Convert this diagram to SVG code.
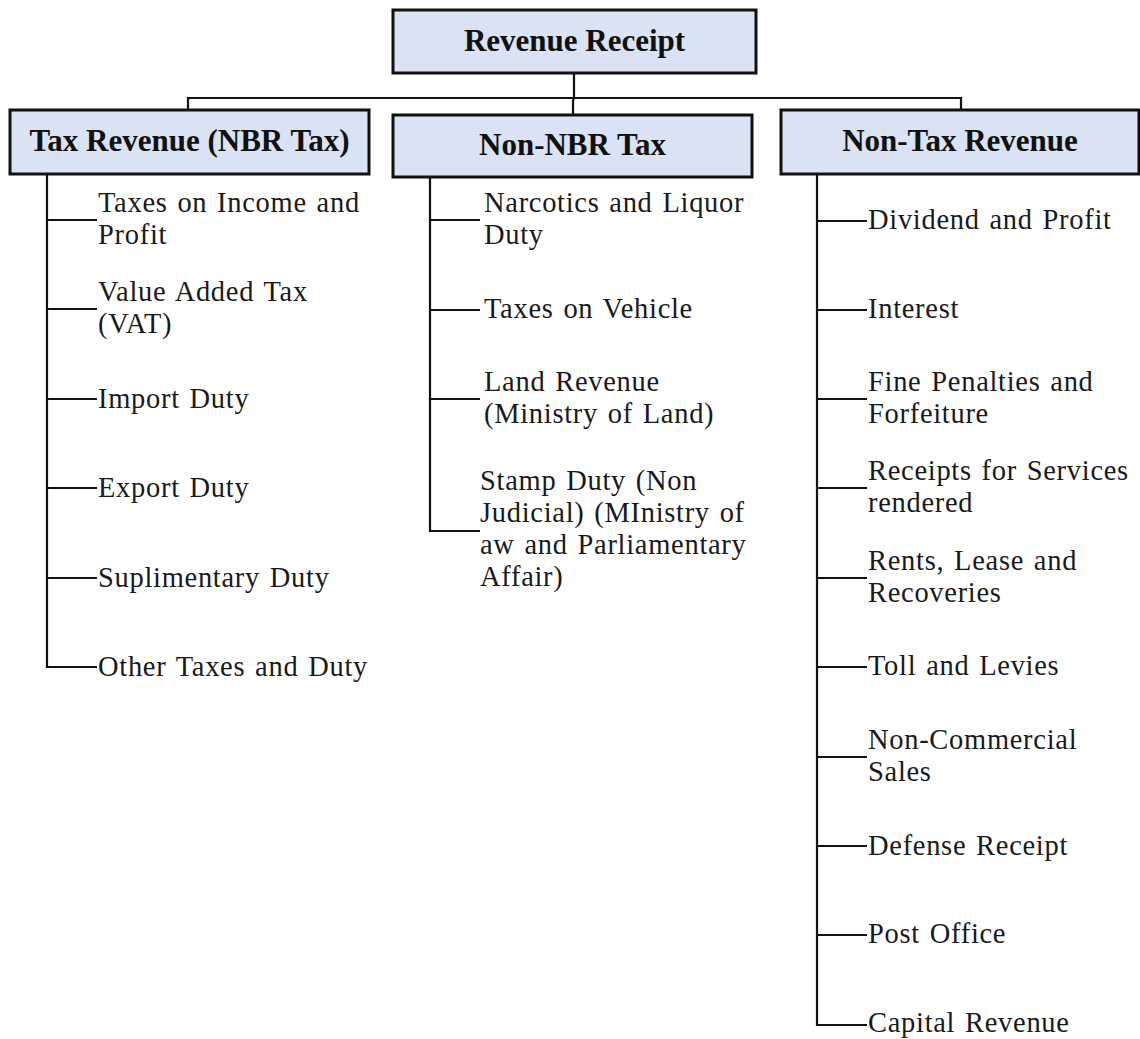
<svg xmlns="http://www.w3.org/2000/svg" width="1140" height="1039" viewBox="0 0 1140 1039">
<style>
.box{fill:#DAE3F3;stroke:#111;stroke-width:3}
.hd{font-family:"Liberation Serif","Times New Roman",serif;font-weight:bold;font-size:31px;fill:#111;text-anchor:middle}
.it{font-family:"Liberation Serif","Times New Roman",serif;font-size:28.5px;letter-spacing:0.7px;word-spacing:2px;fill:#1a1a1a}
.ln{fill:none;stroke:#111;stroke-width:2.2}
</style>
<rect width="1140" height="1039" fill="#fff"/>
<g id="connectors">
<path class="ln" d="M574 73V98M188 110V98H961V110M574 98L573 101V115"/>
<path class="ln" d="M47 174V667H97M47 220H97M47 309H97M47 399H97M47 488H97M47 578H97"/>
<path class="ln" d="M430 177V531H480M430 220H480M430 310H480M430 399H480"/>
<path class="ln" d="M817 174V1025H867M817 221H867M817 310H867M817 399H867M817 488H867M817 578H867M817 667H867M817 757H867M817 846H867M817 935H867"/>
</g>
<g id="root"><rect class="box" x="393" y="10" width="363" height="63"/><text class="hd" x="574.5" y="51">Revenue Receipt</text></g>
<g id="tax"><rect class="box" x="10" y="110" width="359" height="64"/><text class="hd" x="189.5" y="151">Tax Revenue (NBR Tax)</text></g>
<g id="nonnbr"><rect class="box" x="393" y="115" width="359" height="62"/><text class="hd" x="572.5" y="155">Non-NBR Tax</text></g>
<g id="nontax"><rect class="box" x="781" y="110" width="358" height="64"/><text class="hd" x="960" y="151">Non-Tax Revenue</text></g>
<g id="tax-items">
<g id="t1"><text class="it" x="98" y="212">Taxes on Income and</text><text class="it" x="98" y="244">Profit</text></g>
<g id="t2"><text class="it" x="98" y="301">Value Added Tax</text><text class="it" x="98" y="333">(VAT)</text></g>
<g id="t3"><text class="it" x="98" y="408">Import Duty</text></g>
<g id="t4"><text class="it" x="98" y="497">Export Duty</text></g>
<g id="t5"><text class="it" x="98" y="587">Suplimentary Duty</text></g>
<g id="t6"><text class="it" x="98" y="676">Other Taxes and Duty</text></g>
</g>
<g id="nonnbr-items">
<g id="n1"><text class="it" x="484" y="212">Narcotics and Liquor</text><text class="it" x="484" y="244">Duty</text></g>
<g id="n2"><text class="it" x="484" y="318">Taxes on Vehicle</text></g>
<g id="n3"><text class="it" x="484" y="391">Land Revenue</text><text class="it" x="484" y="423">(Ministry of Land)</text></g>
<g id="n4"><text class="it" x="480" y="490">Stamp Duty (Non</text><text class="it" x="480" y="522">Judicial) (MInistry of</text><text class="it" x="480" y="554">aw and Parliamentary</text><text class="it" x="480" y="586">Affair)</text></g>
</g>
<g id="nontax-items">
<g id="r1"><text class="it" x="868" y="229">Dividend and Profit</text></g>
<g id="r2"><text class="it" x="868" y="318">Interest</text></g>
<g id="r3"><text class="it" x="868" y="391">Fine Penalties and</text><text class="it" x="868" y="423">Forfeiture</text></g>
<g id="r4"><text class="it" x="868" y="480">Receipts for Services</text><text class="it" x="868" y="512">rendered</text></g>
<g id="r5"><text class="it" x="868" y="570">Rents, Lease and</text><text class="it" x="868" y="602">Recoveries</text></g>
<g id="r6"><text class="it" x="868" y="675">Toll and Levies</text></g>
<g id="r7"><text class="it" x="868" y="749">Non-Commercial</text><text class="it" x="868" y="781">Sales</text></g>
<g id="r8"><text class="it" x="868" y="855">Defense Receipt</text></g>
<g id="r9"><text class="it" x="868" y="943">Post Office</text></g>
<g id="r10"><text class="it" x="868" y="1032">Capital Revenue</text></g>
</g>
</svg>
